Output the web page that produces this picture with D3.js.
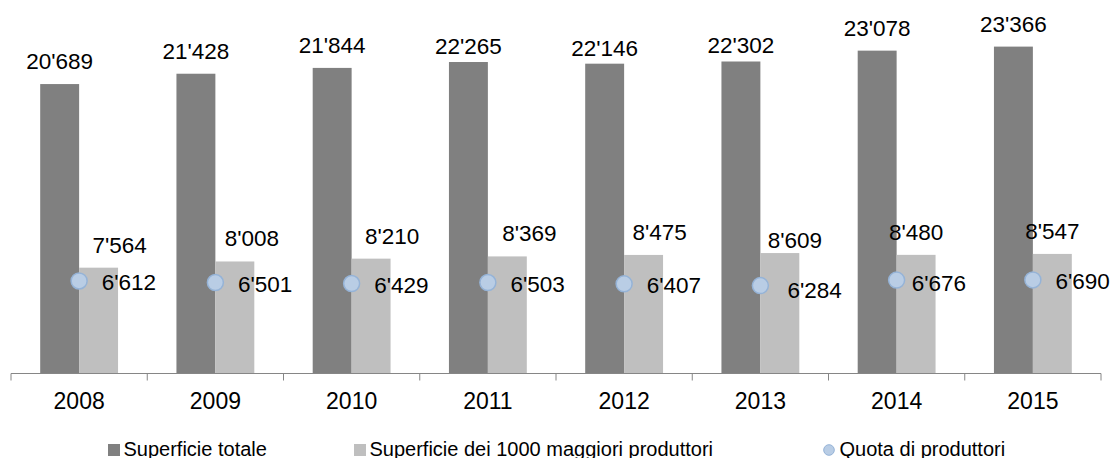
<!DOCTYPE html>
<html>
<head>
<meta charset="utf-8">
<script src="https://cdn.jsdelivr.net/npm/d3@7"></script>
<style>
    body { margin: 0; background: #ffffff; }
    text { font-family: Arial, "Liberation Sans", sans-serif; fill: #000000; }
</style>
</head>
<body>
<div id="chart"></div>
<script>
const years = ["2008", "2009", "2010", "2011", "2012", "2013", "2014", "2015"];
const superficieTotale = [20689, 21428, 21844, 22265, 22146, 22302, 23078, 23366];
const superficieTop1000 = [7564, 8008, 8210, 8369, 8475, 8609, 8480, 8547];
const quotaProduttori = [6612, 6501, 6429, 6503, 6407, 6284, 6676, 6690];
const seriesNames = ["Superficie totale", "Superficie dei 1000 maggiori produttori", "Quota di produttori"];

// hand nudges of some labels, like in the original
const totaleLabelDy = [0, 0, 0, 7, 7, 7, 0, 0];
const top1000LabelDx = [21, 17, 21, 22, 16, 15, 0, 0];
const top1000LabelDy = [0, 0, 0, 0, 0, 10, 0, 0];
const quotaLabelDx = [0, 0, 0, 0, 0, 4.5, -7.5, 0];
const quotaLabelDy = [0, 0, 0, 0, 0, 3.5, 1.5, 0];
const legendX = [108, 354, 823];

const width = 1113, height = 458;
const baseline = 373.5;
const labelSize = "22.5px";

const fmt = d3.formatLocale({ decimal: ".", thousands: "'", grouping: [3], currency: ["", ""] }).format(",");

const svg = d3.select("#chart")
    .append("svg")
    .attr("width", width)
    .attr("height", height);

const x0 = d3.scaleBand().domain(years).range([11, 1101]).padding(0);
const x1 = d3.scaleBand().domain(["totale", "top1000"]).range([0, x0.bandwidth()]).paddingInner(0).paddingOuter(0.75);
const y = d3.scaleLinear().domain([0, 25000]).range([baseline, baseline - 349.75]);

const rows = years.map(function (yr, i) {
    return { year: yr, i: i, totale: superficieTotale[i], top1000: superficieTop1000[i], quota: quotaProduttori[i] };
});

// bars
const group = svg.append("g")
    .selectAll("g")
    .data(rows)
    .enter().append("g")
    .attr("transform", function (d) { return "translate(" + x0(d.year) + ",0)"; });

group.append("rect")
    .attr("x", x1("totale"))
    .attr("width", x1.bandwidth())
    .attr("y", function (d) { return y(d.totale); })
    .attr("height", function (d) { return baseline - y(d.totale); })
    .attr("fill", "#808080");

group.append("rect")
    .attr("x", x1("top1000"))
    .attr("width", x1.bandwidth())
    .attr("y", function (d) { return y(d.top1000); })
    .attr("height", function (d) { return baseline - y(d.top1000); })
    .attr("fill", "#bfbfbf");

group.append("text")
    .attr("x", x1("totale") + x1.bandwidth() / 2)
    .attr("y", function (d) { return y(d.totale) - 15 + totaleLabelDy[d.i]; })
    .attr("text-anchor", "middle")
    .style("font-size", labelSize)
    .text(function (d) { return fmt(d.totale); });

group.append("text")
    .attr("x", function (d) { return x1("top1000") + x1.bandwidth() / 2 + top1000LabelDx[d.i]; })
    .attr("y", function (d) { return y(d.top1000) - 15 + top1000LabelDy[d.i]; })
    .attr("text-anchor", "middle")
    .style("font-size", labelSize)
    .text(function (d) { return fmt(d.top1000); });

// quota markers
group.append("circle")
    .attr("cx", x0.bandwidth() / 2)
    .attr("cy", function (d) { return y(d.quota); })
    .attr("r", 8)
    .attr("fill", "#b9cde5")
    .attr("stroke", "#95b3d7")
    .attr("stroke-width", 1.5);

group.append("text")
    .attr("x", function (d) { return x0.bandwidth() / 2 + 22.5 + quotaLabelDx[d.i]; })
    .attr("y", function (d) { return y(d.quota) + 9 + quotaLabelDy[d.i]; })
    .attr("text-anchor", "start")
    .style("font-size", labelSize)
    .text(function (d) { return fmt(d.quota); });

// x axis
const axis = svg.append("g")
    .attr("transform", "translate(0," + baseline + ")")
    .call(d3.axisBottom(x0).tickSize(0).tickPadding(0));
axis.select(".domain").remove();
axis.selectAll("text")
    .attr("y", 35.5)
    .attr("dy", null)
    .style("font-size", "23px")
    .style("font-family", "Arial, 'Liberation Sans', sans-serif")
    .attr("fill", "#000000");

svg.append("line")
    .attr("x1", x0.range()[0]).attr("x2", x0.range()[1])
    .attr("y1", baseline).attr("y2", baseline)
    .attr("stroke", "#868686")
    .attr("stroke-width", 1);

const bounds = years.map(function (d) { return x0(d); }).concat([x0.range()[1]]);
svg.append("g")
    .selectAll("line")
    .data(bounds)
    .enter().append("line")
    .attr("x1", function (d) { return d; }).attr("x2", function (d) { return d; })
    .attr("y1", baseline).attr("y2", baseline + 7)
    .attr("stroke", "#868686")
    .attr("stroke-width", 1);

// legend
const legend = svg.append("g")
    .selectAll("g")
    .data(seriesNames)
    .enter().append("g")
    .attr("transform", function (d, i) { return "translate(" + legendX[i] + ",444)"; });

legend.filter(function (d, i) { return i < 2; })
    .append("rect")
    .attr("width", 12).attr("height", 12)
    .attr("fill", function (d, i) { return i === 0 ? "#808080" : "#bfbfbf"; });

legend.filter(function (d, i) { return i === 2; })
    .append("circle")
    .attr("cx", 6).attr("cy", 6).attr("r", 5.3)
    .attr("fill", "#b9cde5")
    .attr("stroke", "#95b3d7")
    .attr("stroke-width", 1);

legend.append("text")
    .attr("x", function (d, i) { return i === 2 ? 16.5 : 15.5; })
    .attr("y", 11.5)
    .style("font-size", "20px")
    .text(function (d) { return d; });
</script>
</body>
</html>
